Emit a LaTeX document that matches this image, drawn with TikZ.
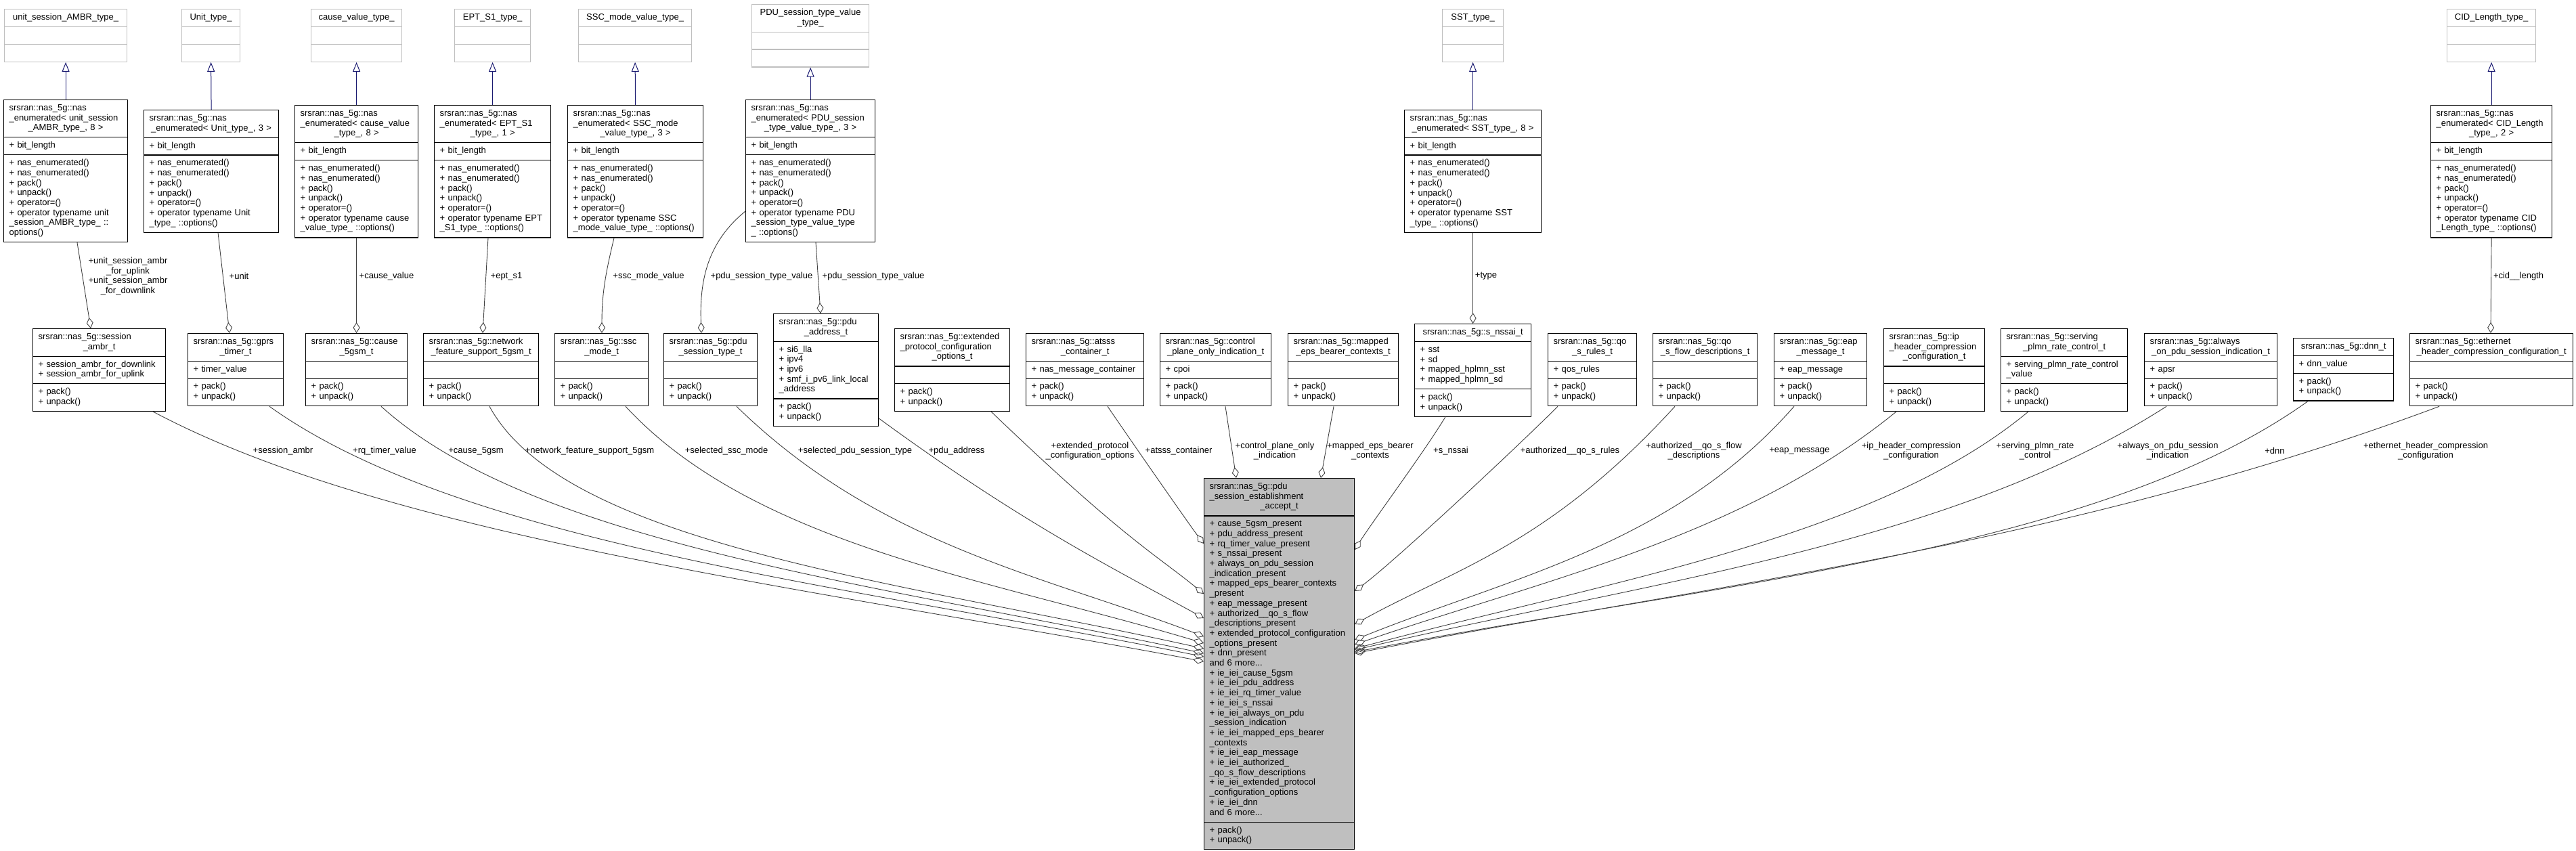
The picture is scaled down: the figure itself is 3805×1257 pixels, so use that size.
\documentclass[tikz,border=0pt]{standalone}
\usepackage{fontspec}
\setmainfont{Liberation Sans}
\usepackage{xcolor}
\definecolor{umlGray}{HTML}{BFBFBF}
\definecolor{umlEdge}{HTML}{404040}
\definecolor{umlInherit}{HTML}{191970}
\usetikzlibrary{shapes.multipart,arrows.meta}

% last title line, centred in the box
\newcommand{\ctitle}[1]{\makebox[\hsize]{\strut#1\strut}}

\tikzset{
  umlfont/.style={font=\fontsize{13}{14.7}\selectfont},
  umlclass/.style={umlfont, draw=black, fill=white, line width=1.2pt, rectangle split, rectangle split parts=3,
    align=left, inner xsep=8pt, inner ysep=5pt, anchor=north west},
  tmplclass/.style={umlclass, draw=umlGray},
  mainclass/.style={umlclass, fill=umlGray},
  aggr/.style={draw=umlEdge, line width=0.9pt, -{Diamond[open,length=16pt,width=10pt]}},
  inherit/.style={draw=umlInherit, line width=1pt, -{Triangle[open,length=14pt,width=11pt]}},
  edgelabel/.style={umlfont, align=center, inner sep=0pt},
}

\begin{document}
\begin{tikzpicture}[x=1pt, y=-1pt]
  \useasboundingbox (0,0) rectangle (3805,1257);

  % template parameter types
  \node[tmplclass, text width=165pt] (tUnitSess) at (6,13) {\ctitle{unit\_session\_AMBR\_type\_}\nodepart{second}\strut\nodepart{third}\strut};
  \node[tmplclass, text width=70pt] (tUnit) at (268,13) {\ctitle{Unit\_type\_}\nodepart{second}\strut\nodepart{third}\strut};
  \node[tmplclass, text width=118pt] (tCause) at (459,13) {\ctitle{cause\_value\_type\_}\nodepart{second}\strut\nodepart{third}\strut};
  \node[tmplclass, text width=96pt] (tEpt) at (671,13) {\ctitle{EPT\_S1\_type\_}\nodepart{second}\strut\nodepart{third}\strut};
  \node[tmplclass, text width=151pt] (tSsc) at (854,13) {\ctitle{SSC\_mode\_value\_type\_}\nodepart{second}\strut\nodepart{third}\strut};
  \node[tmplclass, text width=157pt] (tPdu) at (1110,6) {\ctitle{PDU\_session\_type\_value}\\\ctitle{\_type\_}\nodepart{second}\strut\nodepart{third}\strut};
  \node[tmplclass, text width=74pt] (tSst) at (2130,13) {\ctitle{SST\_type\_}\nodepart{second}\strut\nodepart{third}\strut};
  \node[tmplclass, text width=115pt] (tCid) at (3614,13) {\ctitle{CID\_Length\_type\_}\nodepart{second}\strut\nodepart{third}\strut};

  % nas_enumerated instances
  \node[umlclass, text width=167pt] (nUnitSess) at (5,147) {\strut srsran::nas\_5g::nas\\\_enumerated< unit\_session\\\ctitle{\_AMBR\_type\_, 8 >}
    \nodepart{second}\strut+ bit\_length\strut
    \nodepart{third}\strut+ nas\_enumerated()\\+ nas\_enumerated()\\+ pack()\\+ unpack()\\+ operator=()\\+ operator typename unit\\\_session\_AMBR\_type\_ ::\\options()\strut};
  \node[umlclass, text width=183pt] (nUnit) at (212,162) {\strut srsran::nas\_5g::nas\\\ctitle{\_enumerated< Unit\_type\_, 3 >}
    \nodepart{second}\strut+ bit\_length\strut
    \nodepart{third}\strut+ nas\_enumerated()\\+ nas\_enumerated()\\+ pack()\\+ unpack()\\+ operator=()\\+ operator typename Unit\\\_type\_ ::options()\strut};
  \node[umlclass, text width=166pt] (nCause) at (435,155) {\strut srsran::nas\_5g::nas\\\_enumerated< cause\_value\\\ctitle{\_type\_, 8 >}
    \nodepart{second}\strut+ bit\_length\strut
    \nodepart{third}\strut+ nas\_enumerated()\\+ nas\_enumerated()\\+ pack()\\+ unpack()\\+ operator=()\\+ operator typename cause\\\_value\_type\_ ::options()\strut};
  \node[umlclass, text width=156pt] (nEpt) at (641,155) {\strut srsran::nas\_5g::nas\\\_enumerated< EPT\_S1\\\ctitle{\_type\_, 1 >}
    \nodepart{second}\strut+ bit\_length\strut
    \nodepart{third}\strut+ nas\_enumerated()\\+ nas\_enumerated()\\+ pack()\\+ unpack()\\+ operator=()\\+ operator typename EPT\\\_S1\_type\_ ::options()\strut};
  \node[umlclass, text width=184pt] (nSsc) at (838,155) {\strut srsran::nas\_5g::nas\\\_enumerated< SSC\_mode\\\ctitle{\_value\_type\_, 3 >}
    \nodepart{second}\strut+ bit\_length\strut
    \nodepart{third}\strut+ nas\_enumerated()\\+ nas\_enumerated()\\+ pack()\\+ unpack()\\+ operator=()\\+ operator typename SSC\\\_mode\_value\_type\_ ::options()\strut};
  \node[umlclass, text width=175pt] (nPdu) at (1101,147) {\strut srsran::nas\_5g::nas\\\_enumerated< PDU\_session\\\ctitle{\_type\_value\_type\_, 3 >}
    \nodepart{second}\strut+ bit\_length\strut
    \nodepart{third}\strut+ nas\_enumerated()\\+ nas\_enumerated()\\+ pack()\\+ unpack()\\+ operator=()\\+ operator typename PDU\\\_session\_type\_value\_type\\\_ ::options()\strut};
  \node[umlclass, text width=186pt] (nSst) at (2074,162) {\strut srsran::nas\_5g::nas\\\ctitle{\_enumerated< SST\_type\_, 8 >}
    \nodepart{second}\strut+ bit\_length\strut
    \nodepart{third}\strut+ nas\_enumerated()\\+ nas\_enumerated()\\+ pack()\\+ unpack()\\+ operator=()\\+ operator typename SST\\\_type\_ ::options()\strut};
  \node[umlclass, text width=163pt] (nCid) at (3590,155) {\strut srsran::nas\_5g::nas\\\_enumerated< CID\_Length\\\ctitle{\_type\_, 2 >}
    \nodepart{second}\strut+ bit\_length\strut
    \nodepart{third}\strut+ nas\_enumerated()\\+ nas\_enumerated()\\+ pack()\\+ unpack()\\+ operator=()\\+ operator typename CID\\\_Length\_type\_ ::options()\strut};

  % information elements
  \node[umlclass, text width=180pt] (sessAmbr) at (48,485) {\strut srsran::nas\_5g::session\\\ctitle{\_ambr\_t}
    \nodepart{second}\strut+ session\_ambr\_for\_downlink\\+ session\_ambr\_for\_uplink\strut
    \nodepart{third}\strut+ pack()\\+ unpack()\strut};
  \node[umlclass, text width=125pt] (gprsTimer) at (277,492) {\strut srsran::nas\_5g::gprs\\\ctitle{\_timer\_t}
    \nodepart{second}\strut+ timer\_value\strut
    \nodepart{third}\strut+ pack()\\+ unpack()\strut};
  \node[umlclass, text width=134pt] (cause5gsm) at (451,492) {\strut srsran::nas\_5g::cause\\\ctitle{\_5gsm\_t}
    \nodepart{second}\strut
    \nodepart{third}\strut+ pack()\\+ unpack()\strut};
  \node[umlclass, text width=154pt] (netFeat) at (625,492) {\strut srsran::nas\_5g::network\\\ctitle{\_feature\_support\_5gsm\_t}
    \nodepart{second}\strut
    \nodepart{third}\strut+ pack()\\+ unpack()\strut};
  \node[umlclass, text width=122pt] (sscMode) at (819,492) {\strut srsran::nas\_5g::ssc\\\ctitle{\_mode\_t}
    \nodepart{second}\strut
    \nodepart{third}\strut+ pack()\\+ unpack()\strut};
  \node[umlclass, text width=122pt] (pduSessType) at (980,492) {\strut srsran::nas\_5g::pdu\\\ctitle{\_session\_type\_t}
    \nodepart{second}\strut
    \nodepart{third}\strut+ pack()\\+ unpack()\strut};
  \node[umlclass, text width=139pt] (pduAddr) at (1142,463) {\strut srsran::nas\_5g::pdu\\\ctitle{\_address\_t}
    \nodepart{second}\strut+ si6\_lla\\+ ipv4\\+ ipv6\\+ smf\_i\_pv6\_link\_local\\\_address\strut
    \nodepart{third}\strut+ pack()\\+ unpack()\strut};
  \node[umlclass, text width=154pt] (extProto) at (1321,485) {\strut srsran::nas\_5g::extended\\\_protocol\_configuration\\\ctitle{\_options\_t}
    \nodepart{second}\strut
    \nodepart{third}\strut+ pack()\\+ unpack()\strut};
  \node[umlclass, text width=158pt] (atsss) at (1515,492) {\strut srsran::nas\_5g::atsss\\\ctitle{\_container\_t}
    \nodepart{second}\strut+ nas\_message\_container\strut
    \nodepart{third}\strut+ pack()\\+ unpack()\strut};
  \node[umlclass, text width=148pt] (cpOnly) at (1713,492) {\strut srsran::nas\_5g::control\\\ctitle{\_plane\_only\_indication\_t}
    \nodepart{second}\strut+ cpoi\strut
    \nodepart{third}\strut+ pack()\\+ unpack()\strut};
  \node[umlclass, text width=147pt] (mappedEps) at (1902,492) {\strut srsran::nas\_5g::mapped\\\ctitle{\_eps\_bearer\_contexts\_t}
    \nodepart{second}\strut
    \nodepart{third}\strut+ pack()\\+ unpack()\strut};
  \node[umlclass, text width=156pt] (sNssai) at (2089,478) {\ctitle{srsran::nas\_5g::s\_nssai\_t}
    \nodepart{second}\strut+ sst\\+ sd\\+ mapped\_hplmn\_sst\\+ mapped\_hplmn\_sd\strut
    \nodepart{third}\strut+ pack()\\+ unpack()\strut};
  \node[umlclass, text width=115pt] (qosRules) at (2286,492) {\strut srsran::nas\_5g::qo\\\ctitle{\_s\_rules\_t}
    \nodepart{second}\strut+ qos\_rules\strut
    \nodepart{third}\strut+ pack()\\+ unpack()\strut};
  \node[umlclass, text width=138pt] (qosFlow) at (2441,492) {\strut srsran::nas\_5g::qo\\\ctitle{\_s\_flow\_descriptions\_t}
    \nodepart{second}\strut
    \nodepart{third}\strut+ pack()\\+ unpack()\strut};
  \node[umlclass, text width=121pt] (eapMsg) at (2620,492) {\strut srsran::nas\_5g::eap\\\ctitle{\_message\_t}
    \nodepart{second}\strut+ eap\_message\strut
    \nodepart{third}\strut+ pack()\\+ unpack()\strut};
  \node[umlclass, text width=133pt] (ipHdr) at (2782,485) {\strut srsran::nas\_5g::ip\\\_header\_compression\\\ctitle{\_configuration\_t}
    \nodepart{second}\strut
    \nodepart{third}\strut+ pack()\\+ unpack()\strut};
  \node[umlclass, text width=171pt] (servPlmn) at (2955,485) {\strut srsran::nas\_5g::serving\\\ctitle{\_plmn\_rate\_control\_t}
    \nodepart{second}\strut+ serving\_plmn\_rate\_control\\\_value\strut
    \nodepart{third}\strut+ pack()\\+ unpack()\strut};
  \node[umlclass, text width=180pt] (alwaysOn) at (3167,492) {\strut srsran::nas\_5g::always\\\ctitle{\_on\_pdu\_session\_indication\_t}
    \nodepart{second}\strut+ apsr\strut
    \nodepart{third}\strut+ pack()\\+ unpack()\strut};
  \node[umlclass, text width=132pt] (dnn) at (3387,499) {\ctitle{srsran::nas\_5g::dnn\_t}
    \nodepart{second}\strut+ dnn\_value\strut
    \nodepart{third}\strut+ pack()\\+ unpack()\strut};
  \node[umlclass, text width=225pt] (ethHdr) at (3559,492) {\strut srsran::nas\_5g::ethernet\\\ctitle{\_header\_compression\_configuration\_t}
    \nodepart{second}\strut
    \nodepart{third}\strut+ pack()\\+ unpack()\strut};

  % the accept message
  \node[mainclass, text width=206pt] (main) at (1778,706) {\strut srsran::nas\_5g::pdu\\\_session\_establishment\\\ctitle{\_accept\_t}
    \nodepart{second}\strut+ cause\_5gsm\_present\\
    + pdu\_address\_present\\
    + rq\_timer\_value\_present\\
    + s\_nssai\_present\\
    + always\_on\_pdu\_session\\
    \_indication\_present\\
    + mapped\_eps\_bearer\_contexts\\
    \_present\\
    + eap\_message\_present\\
    + authorized\_\_qo\_s\_flow\\
    \_descriptions\_present\\
    + extended\_protocol\_configuration\\
    \_options\_present\\
    + dnn\_present\\
    and 6 more...\\
    + ie\_iei\_cause\_5gsm\\
    + ie\_iei\_pdu\_address\\
    + ie\_iei\_rq\_timer\_value\\
    + ie\_iei\_s\_nssai\\
    + ie\_iei\_always\_on\_pdu\\
    \_session\_indication\\
    + ie\_iei\_mapped\_eps\_bearer\\
    \_contexts\\
    + ie\_iei\_eap\_message\\
    + ie\_iei\_authorized\_\\
    \_qo\_s\_flow\_descriptions\\
    + ie\_iei\_extended\_protocol\\
    \_configuration\_options\\
    + ie\_iei\_dnn\\
    and 6 more...\strut
    \nodepart{third}\strut+ pack()\\+ unpack()\strut};

  % inheritance
  \draw[inherit] (nUnitSess.north) -- (tUnitSess.south);
  \draw[inherit] (nUnit.north) -- (tUnit.south);
  \draw[inherit] (nCause.north) -- (tCause.south);
  \draw[inherit] (nEpt.north) -- (tEpt.south);
  \draw[inherit] (nSsc.north) -- (tSsc.south);
  \draw[inherit] (nPdu.north) -- (tPdu.south);
  \draw[inherit] (nSst.north) -- (tSst.south);
  \draw[inherit] (nCid.north) -- (tCid.south);

  % enumerated members
  \draw[aggr] (nUnitSess.south -| 114,0) -- (sessAmbr.north -| 134,0);
  \draw[aggr] (nUnit.south -| 322,0) -- (gprsTimer.north -| 339,0);
  \draw[aggr] (nCause.south) -- (cause5gsm.north);
  \draw[aggr] (nEpt.south -| 721,0) -- (netFeat.north -| 713,0);
  \draw[aggr] (nSsc.south -| 907,0) .. controls +(-12,50) and +(0,-60) .. (sscMode.north -| 889,0);
  \draw[aggr] (nPdu.west |- 0,312) .. controls +(-55,45) and +(-3,-80) .. (pduSessType.north -| 1036,0);
  \draw[aggr] (nPdu.south -| 1205,0) -- (pduAddr.north -| 1212,0);
  \draw[aggr] (nSst.south) -- (sNssai.north);
  \draw[aggr] (nCid.south) -- (ethHdr.north -| 3679,0);

  \node[edgelabel] (lbUnitSess) at (189,408) {+unit\_session\_ambr\\\_for\_uplink\\+unit\_session\_ambr\\\_for\_downlink};
  \node[edgelabel] (lbUnit) at (353,408) {+unit};
  \node[edgelabel] (lbCause) at (571,408) {+cause\_value};
  \node[edgelabel] (lbEpt) at (748,408) {+ept\_s1};
  \node[edgelabel] (lbSsc) at (958,408) {+ssc\_mode\_value};
  \node[edgelabel] (lbPduA) at (1125,408) {+pdu\_session\_type\_value};
  \node[edgelabel] (lbPduB) at (1290,408) {+pdu\_session\_type\_value};
  \node[edgelabel] (lbSst) at (2195,408) {+type};
  \node[edgelabel] (lbCid) at (3720,408) {+cid\_\_length};

  % members of the accept message, left side
  \draw[aggr] (sessAmbr.south -| 226,0) .. controls +(352,187) and +(-576,-108) .. (main.west |- 0,977);
  \draw[aggr] (gprsTimer.south -| 398,0) .. controls +(287,205) and +(-521,-105) .. (main.west |- 0,970);
  \draw[aggr] (cause5gsm.south -| 563,0) .. controls +(227,205) and +(-480,-102) .. (main.west |- 0,965);
  \draw[aggr] (netFeat.south -| 723,0) .. controls +(112,205) and +(-447,-99) .. (main.west |- 0,958);
  \draw[aggr] (sscMode.south -| 924,0) .. controls +(190,205) and +(-318,-95) .. (main.west |- 0,950);
  \draw[aggr] (pduSessType.south -| 1088,0) .. controls +(210,205) and +(-237,-90) .. (main.west |- 0,940);
  \draw[aggr] (pduAddr.east |- 0,618) .. controls +(212,155) and +(-138,-76) .. (main.west |- 0,913);
  \draw[aggr] (extProto.south -| 1464,0) .. controls +(195,187) and +(-71,-58) .. (main.west |- 0,877);
  \draw[aggr] (atsss.south -| 1636,0) .. controls +(56,82) and +(-16,-21) .. (main.west |- 0,803);
  % top
  \draw[aggr] (cpOnly.south -| 1810,0) -- (main.north -| 1826,0);
  \draw[aggr] (mappedEps.south -| 1970,0) -- (main.north -| 1951,0);
  % right side
  \draw[aggr] (sNssai.south -| 2135,0) .. controls +(-30,50) and +(25,-40) .. (main.east |- 0,812);
  \draw[aggr] (qosRules.south -| 2301,0) .. controls +(-60,60) and +(60,-45) .. (main.east |- 0,873);
  \draw[aggr] (qosFlow.south -| 2474,0) .. controls +(-187,205) and +(146,-81) .. (main.east |- 0,922);
  \draw[aggr] (eapMsg.south -| 2650,0) .. controls +(-180,205) and +(228,-92) .. (main.east |- 0,945);
  \draw[aggr] (ipHdr.south -| 2801,0) .. controls +(-230,187) and +(278,-96) .. (main.east |- 0,952);
  \draw[aggr] (servPlmn.south -| 2996,0) .. controls +(-225,187) and +(372,-99) .. (main.east |- 0,958);
  \draw[aggr] (alwaysOn.south -| 3200,0) .. controls +(-320,205) and +(430,-100) .. (main.east |- 0,960);
  \draw[aggr] (dnn.south -| 3409,0) .. controls +(-310,222) and +(530,-101) .. (main.east |- 0,963);
  \draw[aggr] (ethHdr.south -| 3603,0) .. controls +(-550,205) and +(530,-102) .. (main.east |- 0,965);

  \node[edgelabel] (lbSessAmbr) at (418,666) {+session\_ambr};
  \node[edgelabel] (lbRqTimer) at (568,666) {+rq\_timer\_value};
  \node[edgelabel] (lbCause5gsm) at (703,666) {+cause\_5gsm};
  \node[edgelabel] (lbNetFeat) at (871,666) {+network\_feature\_support\_5gsm};
  \node[edgelabel] (lbSelSsc) at (1073,666) {+selected\_ssc\_mode};
  \node[edgelabel] (lbSelPdu) at (1263,666) {+selected\_pdu\_session\_type};
  \node[edgelabel] (lbPduAddr) at (1413,666) {+pdu\_address};
  \node[edgelabel] (lbExtProto) at (1610,666) {+extended\_protocol\\\_configuration\_options};
  \node[edgelabel] (lbAtsss) at (1741,666) {+atsss\_container};
  \node[edgelabel] (lbCpOnly) at (1883,666) {+control\_plane\_only\\\_indication};
  \node[edgelabel] (lbMappedEps) at (2024,666) {+mapped\_eps\_bearer\\\_contexts};
  \node[edgelabel] (lbSNssai) at (2143,666) {+s\_nssai};
  \node[edgelabel] (lbQosRules) at (2319,666) {+authorized\_\_qo\_s\_rules};
  \node[edgelabel] (lbQosFlow) at (2502,666) {+authorized\_\_qo\_s\_flow\\\_descriptions};
  \node[edgelabel] (lbEap) at (2658,666) {+eap\_message};
  \node[edgelabel] (lbIpHdr) at (2823,666) {+ip\_header\_compression\\\_configuration};
  \node[edgelabel] (lbServPlmn) at (3006,666) {+serving\_plmn\_rate\\\_control};
  \node[edgelabel] (lbAlwaysOn) at (3202,666) {+always\_on\_pdu\_session\\\_indication};
  \node[edgelabel] (lbDnn) at (3360,666) {+dnn};
  \node[edgelabel] (lbEthHdr) at (3583,666) {+ethernet\_header\_compression\\\_configuration};
\end{tikzpicture}
\end{document}
